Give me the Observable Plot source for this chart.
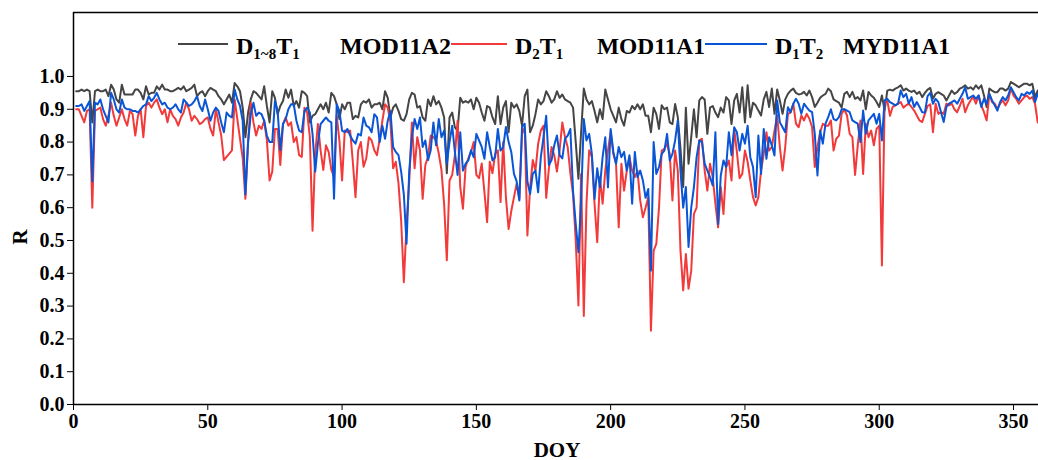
<!DOCTYPE html>
<html><head><meta charset="utf-8">
<script src="https://cdn.jsdelivr.net/npm/d3@7"></script>
<script src="https://cdn.jsdelivr.net/npm/@observablehq/plot@0.6"></script>
<style>body{margin:0;background:#fff;}</style>
</head><body><div id="chart"></div>
<script>
const firstDay = 1;
const seriesNames = ["D1~8T1 MOD11A2", "D2T1 MOD11A1", "D1T2 MYD11A1"];
const seriesColors = ["#454545", "#f23a3a", "#0a55d6"];
const xTicks = [0, 50, 100, 150, 200, 250, 300, 350];
const yTicks = [0, 0.1, 0.2, 0.3, 0.4, 0.5, 0.6, 0.7, 0.8, 0.9, 1.0];

const grayR = [
0.955,0.955,0.96,0.955,0.96,0.955,0.86,0.955,0.96,0.955,
0.955,0.96,0.94,0.975,0.96,0.93,0.92,0.975,0.945,0.945,
0.945,0.945,0.96,0.96,0.95,0.93,0.97,0.945,0.95,0.95,
0.97,0.96,0.975,0.96,0.96,0.955,0.955,0.96,0.965,0.96,
0.97,0.955,0.96,0.965,0.975,0.94,0.95,0.955,0.94,0.955,
0.965,0.96,0.955,0.94,0.93,0.915,0.93,0.945,0.92,0.98,
0.97,0.955,0.905,0.815,0.89,0.93,0.955,0.95,0.94,0.93,
0.97,0.91,0.86,0.955,0.935,0.885,0.91,0.925,0.96,0.935,
0.96,0.91,0.925,0.905,0.955,0.95,0.94,0.86,0.88,0.885,
0.9,0.915,0.9,0.92,0.89,0.95,0.94,0.915,0.87,0.915,
0.9,0.92,0.92,0.87,0.88,0.875,0.915,0.925,0.92,0.93,
0.905,0.915,0.915,0.92,0.9,0.955,0.935,0.875,0.905,0.915,
0.895,0.87,0.865,0.885,0.93,0.95,0.945,0.905,0.91,0.875,
0.865,0.93,0.91,0.94,0.915,0.925,0.905,0.875,0.705,0.875,
0.89,0.845,0.835,0.935,0.92,0.925,0.92,0.93,0.9,0.935,
0.92,0.89,0.865,0.91,0.905,0.875,0.855,0.94,0.855,0.905,
0.925,0.83,0.92,0.905,0.915,0.895,0.85,0.94,0.96,0.83,
0.85,0.885,0.93,0.915,0.925,0.955,0.94,0.92,0.93,0.955,
0.935,0.945,0.93,0.925,0.92,0.905,0.8,0.688,0.83,0.963,
0.93,0.915,0.925,0.895,0.86,0.9,0.87,0.96,0.93,0.9,
0.88,0.86,0.905,0.87,0.85,0.895,0.89,0.91,0.9,0.915,
0.9,0.915,0.88,0.88,0.83,0.905,0.885,0.84,0.912,0.9,
0.905,0.86,0.855,0.916,0.876,0.78,0.663,0.905,0.734,0.815,
0.9,0.815,0.927,0.937,0.93,0.825,0.905,0.91,0.89,0.876,
0.905,0.89,0.937,0.927,0.855,0.927,0.947,0.89,0.967,0.86,
0.973,0.876,0.92,0.912,0.896,0.881,0.93,0.953,0.907,0.963,
0.886,0.96,0.927,0.886,0.93,0.947,0.957,0.963,0.95,0.945,
0.947,0.953,0.942,0.957,0.937,0.907,0.92,0.935,0.942,0.947,
0.963,0.955,0.93,0.925,0.92,0.905,0.947,0.953,0.937,0.953,
0.932,0.937,0.927,0.957,0.9,0.953,0.942,0.935,0.922,0.907,
0.942,0.896,0.957,0.96,0.957,0.963,0.967,0.973,0.957,0.963,
0.957,0.953,0.957,0.947,0.953,0.937,0.95,0.96,0.965,0.932,
0.947,0.952,0.947,0.942,0.927,0.942,0.957,0.947,0.952,0.963,
0.967,0.973,0.963,0.967,0.96,0.973,0.963,0.973,0.942,0.907,
0.963,0.957,0.952,0.952,0.963,0.963,0.957,0.963,0.983,0.978,
0.973,0.967,0.973,0.978,0.978,0.973,0.978,0.937,0.957
];

const redR = [
0.9,0.9,0.88,0.86,0.895,0.9,0.6,0.895,0.9,0.905,
0.87,0.85,0.88,0.92,0.88,0.85,0.875,0.9,0.87,0.85,
0.895,0.885,0.82,0.88,0.9,0.815,0.91,0.92,0.905,0.92,
0.93,0.905,0.885,0.9,0.86,0.9,0.88,0.87,0.85,0.875,
0.89,0.92,0.9,0.865,0.88,0.87,0.855,0.86,0.87,0.875,
0.84,0.82,0.9,0.86,0.82,0.745,0.755,0.765,0.775,0.93,
0.87,0.81,0.75,0.627,0.8,0.92,0.86,0.82,0.85,0.84,
0.865,0.805,0.683,0.71,0.84,0.84,0.73,0.855,0.875,0.85,
0.86,0.8,0.815,0.76,0.755,0.905,0.89,0.815,0.53,0.765,
0.855,0.775,0.715,0.79,0.77,0.715,0.695,0.88,0.805,0.683,
0.835,0.83,0.835,0.74,0.632,0.775,0.8,0.725,0.75,0.815,
0.805,0.775,0.76,0.81,0.865,0.915,0.905,0.86,0.72,0.74,
0.675,0.56,0.373,0.55,0.68,0.86,0.72,0.815,0.775,0.627,
0.73,0.755,0.82,0.815,0.805,0.765,0.715,0.61,0.44,0.683,
0.7,0.76,0.865,0.663,0.597,0.725,0.75,0.77,0.8,0.7,
0.69,0.735,0.647,0.556,0.74,0.705,0.765,0.775,0.617,0.8,
0.632,0.535,0.59,0.632,0.673,0.627,0.825,0.845,0.515,0.66,
0.745,0.713,0.795,0.835,0.85,0.63,0.72,0.785,0.76,0.71,
0.775,0.86,0.815,0.785,0.705,0.64,0.5,0.302,0.703,0.27,
0.612,0.775,0.755,0.612,0.495,0.693,0.612,0.713,0.775,0.83,
0.764,0.734,0.54,0.734,0.652,0.713,0.754,0.713,0.693,0.713,
0.622,0.571,0.6,0.632,0.225,0.469,0.49,0.6,0.774,0.779,
0.795,0.764,0.622,0.774,0.713,0.469,0.348,0.459,0.353,0.408,
0.581,0.6,0.805,0.81,0.713,0.652,0.734,0.693,0.612,0.54,
0.663,0.581,0.724,0.744,0.683,0.84,0.77,0.69,0.703,0.774,
0.74,0.683,0.632,0.607,0.632,0.713,0.764,0.83,0.774,0.785,
0.835,0.881,0.785,0.713,0.785,0.886,0.89,0.917,0.856,0.845,
0.881,0.866,0.886,0.871,0.845,0.724,0.785,0.83,0.856,0.85,
0.85,0.866,0.774,0.81,0.82,0.886,0.9,0.881,0.825,0.815,
0.7,0.79,0.866,0.703,0.856,0.815,0.835,0.79,0.84,0.85,
0.424,0.917,0.927,0.88,0.907,0.912,0.917,0.922,0.905,0.912,
0.917,0.907,0.896,0.881,0.866,0.861,0.886,0.91,0.915,0.83,
0.917,0.886,0.891,0.886,0.917,0.912,0.917,0.9,0.891,0.91,
0.932,0.891,0.912,0.927,0.937,0.917,0.942,0.912,0.891,0.866,
0.947,0.922,0.917,0.902,0.917,0.927,0.912,0.927,0.963,0.942,
0.932,0.917,0.927,0.937,0.942,0.932,0.937,0.917,0.86
];

const blueR = [
0.91,0.91,0.915,0.895,0.91,0.925,0.68,0.92,0.915,0.93,
0.9,0.88,0.86,0.95,0.93,0.9,0.89,0.93,0.905,0.9,
0.9,0.895,0.895,0.89,0.9,0.91,0.915,0.94,0.925,0.935,
0.95,0.93,0.915,0.92,0.905,0.9,0.905,0.915,0.9,0.89,
0.93,0.92,0.91,0.915,0.925,0.94,0.91,0.895,0.93,0.9,
0.865,0.89,0.905,0.895,0.86,0.83,0.89,0.88,0.875,0.96,
0.93,0.91,0.865,0.64,0.8,0.885,0.92,0.88,0.89,0.885,
0.865,0.82,0.8,0.8,0.925,0.895,0.775,0.855,0.87,0.9,
0.915,0.915,0.865,0.835,0.83,0.895,0.905,0.89,0.825,0.71,
0.795,0.855,0.865,0.875,0.865,0.86,0.627,0.915,0.895,0.835,
0.83,0.84,0.82,0.805,0.795,0.825,0.82,0.875,0.85,0.845,
0.83,0.885,0.875,0.8,0.85,0.81,0.865,0.895,0.785,0.77,
0.76,0.71,0.64,0.49,0.71,0.815,0.87,0.84,0.875,0.785,
0.805,0.745,0.775,0.86,0.79,0.87,0.815,0.835,0.735,0.8,
0.85,0.77,0.7,0.83,0.713,0.734,0.744,0.775,0.754,0.825,
0.805,0.785,0.749,0.83,0.785,0.744,0.754,0.84,0.774,0.785,
0.846,0.8,0.77,0.703,0.68,0.622,0.846,0.856,0.68,0.642,
0.703,0.713,0.647,0.754,0.815,0.88,0.73,0.745,0.79,0.82,
0.76,0.75,0.81,0.82,0.84,0.65,0.55,0.464,0.62,0.87,
0.805,0.825,0.764,0.627,0.72,0.662,0.754,0.815,0.662,0.84,
0.77,0.734,0.785,0.754,0.77,0.713,0.76,0.612,0.77,0.693,
0.713,0.683,0.63,0.657,0.408,0.8,0.703,0.724,0.764,0.774,
0.825,0.744,0.764,0.805,0.866,0.713,0.6,0.663,0.48,0.6,
0.663,0.754,0.805,0.8,0.734,0.713,0.693,0.668,0.83,0.55,
0.698,0.744,0.724,0.83,0.76,0.845,0.83,0.774,0.825,0.795,
0.85,0.754,0.724,0.632,0.82,0.703,0.84,0.749,0.815,0.79,
0.759,0.927,0.86,0.845,0.83,0.906,0.891,0.917,0.932,0.917,
0.886,0.917,0.906,0.896,0.891,0.825,0.698,0.835,0.795,0.856,
0.876,0.9,0.87,0.866,0.876,0.9,0.9,0.896,0.891,0.866,
0.861,0.856,0.8,0.896,0.825,0.866,0.876,0.886,0.856,0.886,
0.805,0.927,0.932,0.922,0.917,0.912,0.917,0.957,0.937,0.947,
0.917,0.937,0.907,0.922,0.907,0.891,0.89,0.94,0.95,0.917,
0.932,0.922,0.891,0.861,0.907,0.917,0.922,0.927,0.917,0.932,
0.947,0.967,0.932,0.937,0.942,0.932,0.942,0.907,0.932,0.917,
0.947,0.927,0.912,0.896,0.922,0.937,0.927,0.942,0.967,0.952,
0.937,0.927,0.947,0.942,0.952,0.947,0.957,0.922,0.947
];

const seriesValues = [grayR, redR, blueR];
const data = seriesValues.flatMap((vals, k) =>
  vals.map((v, i) => ({day: firstDay + i, r: v, s: seriesNames[k]})));

const FONT = "'Liberation Serif', 'Times New Roman', serif";

const svg = Plot.plot({
  width: 1038,
  height: 460,
  marginLeft: 73,
  marginRight: 0,
  marginTop: 12,
  marginBottom: 56,
  style: {fontFamily: FONT, fontWeight: "bold", fontSize: "20px", color: "#000", background: "#fff", overflow: "visible"},
  x: {domain: [0, 359.3]},
  y: {domain: [0, 1.195]},
  marks: [
    Plot.axisX({ticks: xTicks, tickSize: 6, tickPadding: 3, label: null, tickFormat: d => String(d)}),
    Plot.axisY({ticks: yTicks, tickSize: 6, tickPadding: 3, label: null, tickFormat: d => d.toFixed(1)}),
    ...seriesNames.map((name, k) =>
      Plot.lineY(data.filter(d => d.s === name), {x: "day", y: "r", stroke: seriesColors[k], strokeWidth: 2})),
    Plot.ruleX([0], {stroke: "#000", strokeWidth: 1.5}),
    Plot.ruleY([0], {stroke: "#000", strokeWidth: 1.5}),
    Plot.ruleY([1.195], {stroke: "#000", strokeWidth: 1.5})
  ]
});

const g = d3.select(svg).append("g")
  .attr("font-family", FONT).attr("font-weight", "bold").attr("fill", "#000")
  .attr("text-anchor", "start");
// axis titles
g.append("text").attr("x", 557).attr("y", 457).attr("text-anchor", "middle").attr("font-size", 21).text("DOY");
g.append("text").attr("transform", "translate(27,237) rotate(-90)").attr("text-anchor", "middle").attr("font-size", 21).text("R");

// legend
const legendItems = [
  {color: seriesColors[0], x1: 178, x2: 228, parts: [["D",0],["1~8",1],["T",0],["1",1]], tx: 236, tw: 70, code: "MOD11A2", cx: 340, cw: 111},
  {color: seriesColors[1], x1: 451, x2: 507, parts: [["D",0],["2",1],["T",0],["1",1]], tx: 515, tw: 48, code: "MOD11A1", cx: 597, cw: 108},
  {color: seriesColors[2], x1: 705, x2: 767, parts: [["D",0],["1",1],["T",0],["2",1]], tx: 775, tw: 52, code: "MYD11A1", cx: 843, cw: 107}
];
const ly = 44, lb = 54;
legendItems.forEach(it => {
  g.append("line").attr("x1", it.x1).attr("x2", it.x2).attr("y1", ly).attr("y2", ly)
    .attr("stroke", it.color).attr("stroke-width", 2);
  const t = g.append("text").attr("x", it.tx).attr("y", lb).attr("font-size", 24).attr("text-anchor", "start");
  it.parts.forEach(([s, sub], idx) => {
    const ts = t.append("tspan").text(s);
    if (sub) ts.attr("font-size", 15).attr("dy", 5);
    else if (idx > 0) ts.attr("dy", -5);
  });
  g.append("text").attr("x", it.cx).attr("y", lb).attr("font-size", 24).attr("text-anchor", "start")
    .attr("textLength", it.cw).attr("lengthAdjust", "spacingAndGlyphs").text(it.code);
});

document.getElementById("chart").appendChild(svg);
</script>
</body></html>
